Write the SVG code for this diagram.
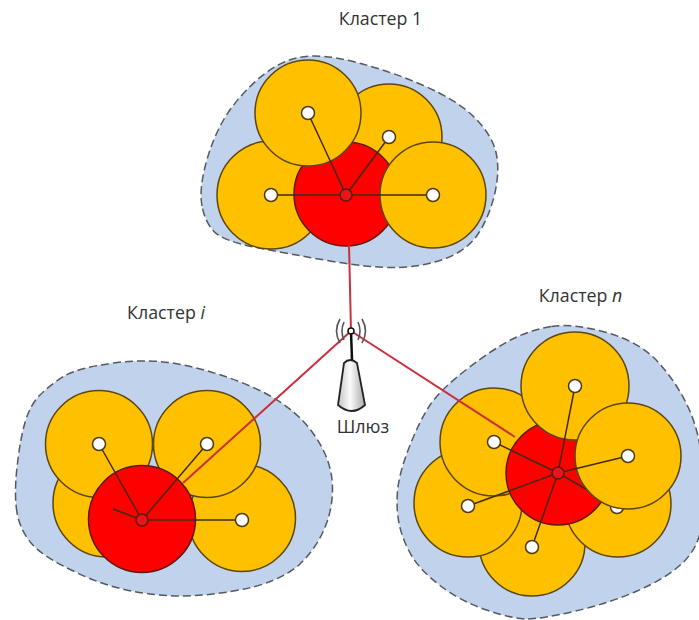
<svg xmlns="http://www.w3.org/2000/svg" width="699" height="620" viewBox="0 0 699 620">
<style>
.blob{fill:#c0d2ec;stroke:#555a60;stroke-width:1.5;stroke-dasharray:8 4}
.o{fill:#ffc000;stroke:#5c4610;stroke-width:1.5}
.r{fill:#ff0000;stroke:#5a1a10;stroke-width:1.5}
.hub{fill:#e8141c;stroke:#5a1a10;stroke-width:1.5}
.s{stroke:#3f2c0c;stroke-width:1.5;fill:none}
.d{fill:#fff;stroke:#4a3a14;stroke-width:1.5}
.link{stroke:#c9303e;stroke-width:2;fill:none}
.arc{stroke:#555;stroke-width:1.6;fill:none}
text{font-family:"Open Sans","Noto Sans","Liberation Sans",sans-serif;fill:#333}
.t{font-size:17.8px}
</style>
<defs>
<linearGradient id="cone" x1="0" y1="0" x2="1" y2="0"><stop offset="0" stop-color="#c4c4c4"/><stop offset=".45" stop-color="#fbfbfb"/><stop offset="1" stop-color="#a8a8a8"/></linearGradient>
<filter id="soft" x="-5%" y="-5%" width="110%" height="110%"><feGaussianBlur stdDeviation="0.45"/></filter>
</defs>
<g filter="url(#soft)">
<g id="cluster-1">
<path class="blob" d="M202,206Q199,190 205.5,165Q212,140 223.5,120Q235,100 256,81Q277,62 298.5,57.5Q320,53 355,62Q390,71 423.5,85.5Q457,100 474.5,117.5Q492,135 496,152.5Q500,170 495,192.5Q490,215 479,232.5Q468,250 445.5,258.5Q423,267 396.5,267.5Q370,268 330,261Q290,254 256.5,247.5Q223,241 214,231.5Q205,222 202,206Z"/>
<circle class="o" cx="271" cy="195" r="54"/>
<circle class="o" cx="389" cy="137" r="53"/>
<circle class="r" cx="346" cy="194" r="52"/>
<circle class="o" cx="433" cy="195" r="53"/>
<circle class="o" cx="308" cy="113" r="53"/>
<path class="s" d="M346,195L271,195M346,195L433,195M346,195L308,113M346,195L389,137"/>
<circle class="d" cx="271" cy="195" r="6.5"/><circle class="d" cx="433" cy="195" r="6.5"/><circle class="d" cx="308" cy="113" r="6.5"/><circle class="d" cx="389" cy="137" r="6.5"/>
<circle class="hub" cx="346" cy="195" r="6"/>
</g>
<g id="cluster-i">
<path class="blob" d="M17,512.5Q14,495 17,467.5Q20,440 25,422.5Q30,405 40,395Q50,385 63.5,376.5Q77,368 113.5,363Q150,358 183.5,365Q217,372 250,386Q283,400 303.5,421.5Q323,443 329.5,466.5Q336,490 328.5,517.5Q320,545 299.5,564.5Q277,584 233.5,591Q190,599 150,594Q110,589 76.5,572.5Q43,557 31.5,543.5Q20,530 17,512.5Z"/>
<circle class="o" cx="107" cy="503" r="54"/>
<circle class="o" cx="242" cy="518" r="53.5"/>
<circle class="o" cx="99" cy="444" r="53.5"/>
<circle class="o" cx="207" cy="444" r="53.5"/>
<circle class="r" cx="142" cy="519" r="53.5"/>
<path class="s" d="M142,520L113,509M142,520L242,520M142,520L99,444M142,520L207,444"/>
<circle class="d" cx="99" cy="444" r="6.5"/><circle class="d" cx="207" cy="444" r="6.5"/><circle class="d" cx="242" cy="520" r="6.5"/>
<circle class="hub" cx="142" cy="520" r="6"/>
</g>
<g id="cluster-n">
<path class="blob" d="M551.5,326.5Q573,323 606.5,332.5Q640,342 658.5,362.5Q677,383 688.5,408Q700,433 702.5,466.5Q705,500 702,523.5Q699,547 683,562.5Q667,578 637,591Q607,604 573.5,611.5Q540,619 526.5,619Q513,619 486.5,610Q460,601 440,585.5Q420,570 411.5,555.5Q403,541 399.5,525.5Q396,510 397.5,491.5Q399,473 409.5,446.5Q420,420 430,405Q440,390 466.5,369.5Q493,349 511.5,339.5Q530,330 551.5,326.5Z"/>
<circle class="o" cx="532" cy="543" r="53"/>
<circle class="o" cx="618" cy="504" r="53"/>
<circle class="o" cx="468" cy="503" r="54"/>
<circle class="o" cx="494" cy="442" r="54"/>
<circle class="r" cx="558" cy="473" r="52"/>
<circle class="d" cx="617" cy="507" r="6.5"/>
<path class="s" d="M558,473L617,507"/>
<circle class="o" cx="575" cy="386" r="54"/>
<circle class="o" cx="628" cy="456" r="53"/>
<path class="s" d="M558,473L494,442M558,473L468,506M558,473L532,547M558,473L575,386M558,473L628,456"/>
<circle class="d" cx="494" cy="442" r="6.5"/><circle class="d" cx="468" cy="506" r="6.5"/><circle class="d" cx="532" cy="547" r="6.5"/><circle class="d" cx="575" cy="386" r="6.5"/><circle class="d" cx="628" cy="456" r="6.5"/>
<circle class="hub" cx="558" cy="473" r="6"/>
</g>
<g id="connectors">
<path class="link" d="M351,331L349,245M351,331L183,483M351,331L515,437"/>
</g>
<g id="gateway">
<path class="arc" d="M344,322Q340,331 344,340M340,319Q333,331 340,343M358,322Q362,331 358,340M362,319Q369,331 362,343"/>
<path d="M351,331L352,360" stroke="#111" stroke-width="2.5" fill="none"/>
<circle cx="351" cy="331" r="3" fill="#fff" stroke="#111" stroke-width="1.5"/>
<path d="M344,363Q350,357 357,363L365,405Q352,417 338,405Z" fill="url(#cone)" stroke="#222" stroke-width="1.8"/>
</g>
</g>
<g id="labels">
<text class="t" x="380.500" y="25" text-anchor="middle">Кластер 1</text>
<text class="t" x="166" y="319" text-anchor="middle">Кластер <tspan font-style="italic">i</tspan></text>
<text class="t" x="580.500" y="302" text-anchor="middle">Кластер <tspan font-style="italic">n</tspan></text>
<text x="363" y="433" text-anchor="middle" font-size="18">Шлюз</text>
</g>
</svg>
